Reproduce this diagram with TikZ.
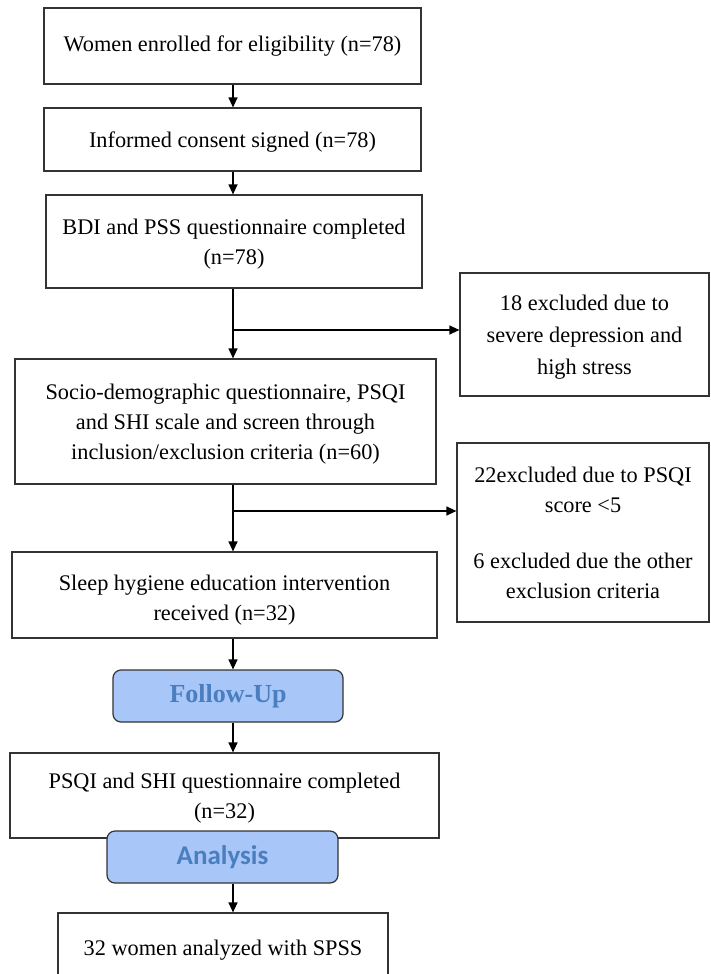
\documentclass[tikz,border=0pt]{standalone}
\usepackage{fontspec}
\setmainfont{Liberation Serif}
\newfontfamily\calibfont{Carlito}
\usepackage{xcolor}
\usetikzlibrary{arrows.meta}
\definecolor{stagefill}{HTML}{A8C6F8}
\definecolor{stagetext}{HTML}{4A7EBE}
\definecolor{edgegray}{HTML}{333333}

\begin{document}
\begin{tikzpicture}[x=1pt, y=-1pt,
    box/.style={draw=edgegray, line width=1.2pt, align=center, inner sep=0pt, text depth=0pt, font=\fontsize{22.3}{30}\selectfont},
    stage/.style={draw=edgegray, line width=1.2pt, fill=stagefill, rounded corners=8pt, inner sep=0pt, text=stagetext},
    arr/.style={line width=1.2pt, -{Triangle[length=10pt, width=9pt]}}]
    \useasboundingbox (0,0) rectangle (711,974);
    \node[box, minimum width=377pt, minimum height=76pt] (enrol) at (232.5,46) {\raisebox{4pt}{Women enrolled for eligibility (n=78)}};
    \node[box, minimum width=377pt, minimum height=63pt] (consent) at (232.5,139.5) {Informed consent signed (n=78)};
    \node[box, minimum width=376pt, minimum height=93pt] (bdi) at (234,241.5) {BDI and PSS questionnaire completed\\(n=78)};
    \node[box, minimum width=249pt, minimum height=123pt] (excla) at (584.5,334.5) {18 excluded due to\\[2pt]severe depression and\\[2pt]high stress};
    \node[box, minimum width=421pt, minimum height=125pt] (socio) at (225.5,421.5) {Socio-demographic questionnaire, PSQI\\and SHI scale and screen through\\inclusion/exclusion criteria (n=60)};
    \node[box, minimum width=252pt, minimum height=179pt] (exclb) at (583,532.5) {22excluded due to PSQI\\score <5\\[26pt]6 excluded due the other\\exclusion criteria};
    \node[box, minimum width=425pt, minimum height=86pt] (sleep) at (224.5,595) {\raisebox{-6pt}{Sleep hygiene education intervention}\\\raisebox{-6pt}{received (n=32)}};
    \node[stage, minimum width=230pt, minimum height=52pt, font=\fontsize{26}{30}\selectfont\bfseries] (follow) at (228,696) {Follow-Up};
    \node[box, minimum width=429pt, minimum height=85pt] (post) at (224.5,795.5) {PSQI and SHI questionnaire completed\\(n=32)};
    \node[stage, minimum width=231pt, minimum height=52pt, font=\calibfont\bfseries\fontsize{27}{30}\selectfont] (analysis) at (222.5,857) {Analysis};
    \node[box, minimum width=330pt, minimum height=70pt] (spss) at (223,948) {32 women analyzed with SPSS};

    \coordinate (spine) at (233,0);
    \coordinate (fork1) at (233,330);
    \coordinate (fork2) at (233,511);
    \draw[arr] (enrol.south -| spine) -- (consent.north -| spine);
    \draw[arr] (consent.south -| spine) -- (bdi.north -| spine);
    \draw[arr] (bdi.south -| spine) -- (socio.north -| spine);
    \draw[arr] (fork1) -- (fork1 -| excla.west);
    \draw[arr] (socio.south -| spine) -- (sleep.north -| spine);
    \draw[arr] (fork2) -- (fork2 -| exclb.west);
    \draw[arr] (sleep.south -| spine) -- (follow.north -| spine);
    \draw[arr] (follow.south -| spine) -- (post.north -| spine);
    \draw[arr] (analysis.south -| spine) -- (spss.north -| spine);
\end{tikzpicture}
\end{document}
